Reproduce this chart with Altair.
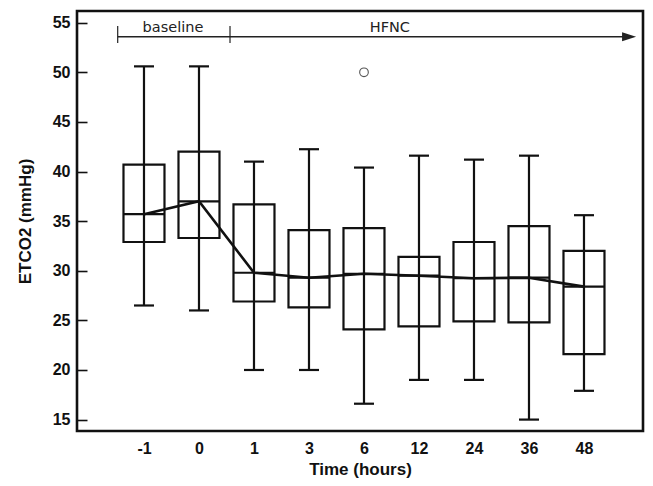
import json
import altair as alt
import pandas as pd

# ---- data ----
times = ["-1", "0", "1", "3", "6", "12", "24", "36", "48"]
lower = [26.5, 26.0, 20.0, 20.0, 16.6, 19.0, 19.0, 15.0, 17.9]
q1 = [32.9, 33.3, 26.9, 26.3, 24.1, 24.4, 24.9, 24.8, 21.6]
median = [35.7, 37.0, 29.8, 29.3, 29.7, 29.5, 29.25, 29.3, 28.4]
q3 = [40.7, 42.0, 36.7, 34.1, 34.3, 31.4, 32.9, 34.5, 32.0]
upper = [50.6, 50.6, 41.0, 42.25, 40.4, 41.6, 41.2, 41.6, 35.6]
outlier_time = ["6"]
outlier_value = [50.0]

# ---- annotation (period labels) ----
period_labels = ["baseline", "HFNC"]
period_text_x = [0.527, 4.47]
period_ticks_x = [-0.478, 1.564]
line_start, line_end, arrow_x = -0.478, 8.75, 8.82
ann_y, ann_tick_lo, ann_tick_hi, ann_text_y = 53.59, 52.96, 54.67, 54.06

idx = list(range(len(times)))
df = pd.DataFrame({"i": idx, "time": times, "lower": lower, "q1": q1,
                   "median": median, "q3": q3, "upper": upper})
out_df = pd.DataFrame({"i": [times.index(t) for t in outlier_time], "v": outlier_value})

x_dom = [-1.218, 9.073]
y_dom = [13.85, 56.18]
label_expr = json.dumps(times) + "[datum.value]"

X = alt.X("i:Q", scale=alt.Scale(domain=x_dom, nice=False, zero=False, padding=0),
          axis=alt.Axis(values=idx, labelExpr=label_expr, title="Time (hours)",
                        ticks=False, domain=False, grid=False,
                        labelFont="Liberation Sans", labelFontWeight="bold",
                        labelFontSize=16, labelColor="#111", labelPadding=9,
                        titleFont="Liberation Sans", titleFontWeight="bold",
                        titleFontSize=17, titleColor="#111", titlePadding=5))
Y = alt.Y("q1:Q", scale=alt.Scale(domain=y_dom, nice=False, zero=False, padding=0),
          axis=alt.Axis(values=list(range(15, 56, 5)), title="ETCO2 (mmHg)",
                        offset=-10, tickSize=10, tickWidth=1.6, tickColor="#111",
                        domain=False, grid=False, labelPadding=7,
                        labelFont="Liberation Sans", labelFontWeight="bold",
                        labelFontSize=16, labelColor="#111",
                        titleFont="Liberation Sans", titleFontWeight="bold",
                        titleFontSize=17, titleColor="#111", titlePadding=18))

ink = "#111"
base = alt.Chart(df)

boxes = base.mark_bar(size=41, fill="white", fillOpacity=0, stroke=ink, strokeWidth=2.2,
                      opacity=1).encode(x=X, y=Y, y2="q3:Q")
whisk = base.mark_rule(color=ink, strokeWidth=2.2, opacity=1).encode(
    x="i:Q", y="lower:Q", y2="upper:Q")
cap_lo = base.mark_tick(orient="horizontal", size=20, thickness=2.2, color=ink, opacity=1).encode(
    x="i:Q", y="lower:Q")
cap_hi = base.mark_tick(orient="horizontal", size=20, thickness=2.2, color=ink, opacity=1).encode(
    x="i:Q", y="upper:Q")
med_tick = base.mark_tick(orient="horizontal", size=41, thickness=2.2, color=ink, opacity=1).encode(
    x="i:Q", y="median:Q")
med_line = base.mark_line(color=ink, strokeWidth=2.6, opacity=1).encode(
    x="i:Q", y="median:Q")
outl = alt.Chart(out_df).mark_point(shape="circle", filled=False, size=75, opacity=1,
                                    color="#555", strokeWidth=1.1).encode(
    x="i:Q", y="v:Q")

ann_color = "#222"
ann_line = alt.Chart(pd.DataFrame({"a": [line_start], "b": [line_end], "y": [ann_y]})).mark_rule(
    color=ann_color, strokeWidth=1.4).encode(x="a:Q", x2="b:Q", y="y:Q")
ann_ticks = alt.Chart(pd.DataFrame({"a": period_ticks_x, "lo": [ann_tick_lo] * 2,
                                    "hi": [ann_tick_hi] * 2})).mark_rule(
    color=ann_color, strokeWidth=1.2).encode(x="a:Q", y="lo:Q", y2="hi:Q")
ann_text = alt.Chart(pd.DataFrame({"a": period_text_x, "y": [ann_text_y] * 2,
                                   "t": period_labels})).mark_text(
    font="DejaVu Sans", fontSize=14.5, color=ann_color, baseline="alphabetic",
    align="center").encode(x="a:Q", y="y:Q", text="t:N")
arrow = alt.Chart(pd.DataFrame({"a": [arrow_x], "y": [ann_y]})).mark_point(
    shape="M-1,-0.64L1,0L-1,0.64Z", size=196, filled=True, color=ann_color,
    strokeWidth=0, opacity=1).encode(x="a:Q", y="y:Q")

chart = alt.layer(boxes, whisk, cap_lo, cap_hi, med_tick, med_line, outl,
                  ann_line, ann_ticks, ann_text, arrow).properties(
    width=566, height=420,
    autosize=alt.AutoSizeParams(type="none"),
    padding={"left": 69, "top": 3, "right": 2, "bottom": 47},
).configure(
    background="white",
    view=alt.ViewConfig(stroke=ink, strokeWidth=2.6),
)

chart.save("out.html", embed_options={"renderer": "svg", "actions": False})
